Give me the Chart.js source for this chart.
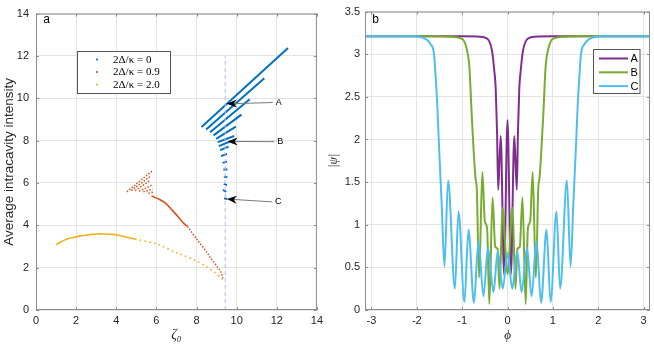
<!DOCTYPE html>
<html>
<head>
<meta charset="utf-8">
<script src="https://cdn.jsdelivr.net/npm/chart.js@4.4.1/dist/chart.umd.min.js"></script>
<style>
  body { margin: 0; background: #fff; }
  #wrap { position: relative; width: 654px; height: 348px; }
  canvas { position: absolute; top: 0; }
</style>
</head>
<body>
<div id="wrap">
  <canvas id="leftChart" width="327" height="348" style="left:0"></canvas>
  <canvas id="rightChart" width="327" height="348" style="left:327px"></canvas>
</div>
<script>
// ---- panel a : average intracavity intensity vs zeta0 ----
const seriesNames = ['2Δ/κ = 0', '2Δ/κ = 0.9', '2Δ/κ = 2.0'];

// 2Δ/κ = 0 : branches (x1, y1, x2, y2)
const blueBranches = [
  [8.25, 8.64, 12.56, 12.38],
  [8.48, 8.52, 11.38, 10.95],
  [8.68, 8.40, 10.65, 9.95],
  [8.85, 8.25, 10.24, 9.23],
  [8.98, 8.08, 9.96, 8.66],
  [9.06, 7.93, 9.88, 8.22],
  [9.11, 7.74, 9.72, 7.98],
  [9.18, 7.55, 9.60, 7.72],
  [9.22, 7.27, 9.52, 7.37],
  [9.30, 6.95, 9.52, 7.00],
  [9.34, 6.64, 9.54, 6.64],
  [9.36, 6.30, 9.54, 6.27],
  [9.36, 5.96, 9.52, 5.90],
  [9.32, 5.67, 9.48, 5.58],
  [9.38, 5.29, 9.52, 5.22]
];

// 2Δ/κ = 0.9 : comb branches and main curve
const orangeBranches = [
  [4.53, 5.58, 5.84, 6.61],
  [4.75, 5.64, 5.73, 6.34],
  [4.94, 5.64, 5.68, 6.11],
  [5.14, 5.61, 5.76, 5.89],
  [5.35, 5.58, 5.81, 5.72],
  [5.60, 5.51, 5.89, 5.58]
];
const orangeDenseX = [5.76, 6.10, 6.41, 6.90, 7.39, 7.55];
const orangeDenseY = [5.38, 5.25, 5.08, 4.60, 4.07, 3.95];
const orangeSparseX = [7.55, 8.04, 8.50, 8.70, 9.18, 9.32];
const orangeSparseY = [3.95, 3.31, 2.75, 2.46, 1.85, 1.50];

// 2Δ/κ = 2.0
const yellowDenseX = [1.00, 1.25, 1.52, 1.85, 2.17, 2.60, 2.99, 3.40, 3.80, 4.10, 4.45, 4.94];
const yellowDenseY = [3.08, 3.22, 3.34, 3.42, 3.49, 3.55, 3.59, 3.59, 3.57, 3.53, 3.46, 3.35];
const yellowSparseX = [4.94, 6.00, 6.98, 7.96, 8.48, 8.94, 9.30];
const yellowSparseY = [3.35, 3.12, 2.72, 2.34, 2.05, 1.74, 1.45];

const guideX = 9.43;
const guideTop = 12;

const arrowNotes = [
  { label: 'A', tail: [11.80, 9.80], tip: [9.51, 9.74] },
  { label: 'B', tail: [11.88, 7.95], tip: [9.55, 7.96] },
  { label: 'C', tail: [11.76, 5.11], tip: [9.51, 5.24] }
];

// ---- panel b : |psi| vs phi ----
const curveNames = ['A', 'B', 'C'];
const phiA = [-3.1416, -1.0, -0.6, -0.47, -0.41, -0.34, -0.29, -0.26, -0.23, -0.205, -0.15, -0.075, 0,
  0.075, 0.15, 0.205, 0.23, 0.26, 0.29, 0.34, 0.41, 0.47, 0.6, 1.0, 3.1416];
const psiA = [3.21, 3.21, 3.205, 3.19, 3.16, 3.04, 2.80, 2.60, 2.08, 1.41, 2.04, 0.42, 2.23,
  0.42, 2.04, 1.41, 2.08, 2.60, 2.80, 3.04, 3.16, 3.19, 3.205, 3.21, 3.21];

const phiB = [-3.1416, -1.6, -1.3, -1.0, -0.89, -0.84, -0.79, -0.74, -0.70, -0.68, -0.625, -0.555, -0.50,
  -0.45, -0.40, -0.33, -0.27, -0.22, -0.175, -0.11, 0,
  0.11, 0.175, 0.22, 0.27, 0.33, 0.40, 0.45, 0.50, 0.555, 0.625, 0.68, 0.70, 0.74, 0.79, 0.84, 0.89,
  1.0, 1.3, 1.6, 3.1416];
const psiB = [3.21, 3.21, 3.205, 3.18, 3.04, 2.85, 2.30, 1.81, 1.52, 1.45, 0.38, 1.62, 1.04,
  0.96, 0.07, 1.32, 0.74, 0.72, 0.25, 1.20, 0.42,
  1.20, 0.25, 0.72, 0.74, 1.32, 0.07, 0.96, 1.04, 1.62, 0.38, 1.45, 1.52, 1.81, 2.30, 2.85, 3.04,
  3.18, 3.205, 3.21, 3.21];

const phiC = [-3.1416, -2.1, -1.9, -1.78, -1.70, -1.62, -1.58, -1.55, -1.52, -1.50, -1.45, -1.39,
  -1.31, -1.16, -1.08, -0.95, -0.86, -0.74, -0.64, -0.53, -0.43, -0.31, -0.215, -0.105, 0,
  0.105, 0.215, 0.31, 0.43, 0.53, 0.64, 0.74, 0.86, 0.95, 1.08, 1.16, 1.31,
  1.39, 1.45, 1.50, 1.52, 1.55, 1.58, 1.62, 1.70, 1.78, 1.9, 2.1, 3.1416];
const psiC = [3.21, 3.21, 3.20, 3.17, 3.12, 3.00, 2.70, 2.43, 2.05, 1.81, 1.23, 0.51,
  1.52, 0.25, 1.155, 0.095, 0.94, 0.085, 0.81, 0.16, 0.73, 0.21, 0.69, 0.25, 0.67,
  0.25, 0.69, 0.21, 0.73, 0.16, 0.81, 0.085, 0.94, 0.095, 1.155, 0.25, 1.52,
  0.51, 1.23, 1.81, 2.05, 2.43, 2.70, 3.00, 3.12, 3.17, 3.20, 3.21, 3.21];

const phiTicks = [-3, -2, -1, 0, 1, 2, 3];

// ---- colours ----
const cBlue = '#0072BD', cOrange = '#D95319', cYellow = '#EDB120';
const cA = '#7E2F8E', cB = '#77AC30', cC = '#4DBEEE';
const gridColor = '#e4e4e4', frameColor = '#8c8c8c', textColor = '#262626';
const sans = '"Liberation Sans", Arial, Helvetica, sans-serif';
const serif = '"Liberation Serif", "DejaVu Serif", serif';

const zip = (xs, ys) => xs.map((x, i) => ({ x: x, y: ys[i] }));
const lineSet = (pts, color, width, dash, extra) => Object.assign({
  data: pts, borderColor: color, backgroundColor: color, borderWidth: width,
  borderDash: dash || [], showLine: true, pointRadius: 0, fill: false
}, extra || {});

// frame + inward tick marks, MATLAB style
const framePlugin = {
  id: 'frame',
  afterDraw(chart) {
    const { ctx, chartArea: a, scales } = chart;
    ctx.save();
    ctx.strokeStyle = frameColor;
    ctx.lineWidth = 1;
    ctx.strokeRect(a.left + 0.5, a.top + 0.5, a.right - a.left - 1, a.bottom - a.top - 1);
    ctx.beginPath();
    scales.x.ticks.forEach(t => {
      const p = Math.round(scales.x.getPixelForValue(t.value)) + 0.5;
      ctx.moveTo(p, a.bottom); ctx.lineTo(p, a.bottom - 3);
      ctx.moveTo(p, a.top); ctx.lineTo(p, a.top + 3);
    });
    scales.y.ticks.forEach(t => {
      const p = Math.round(scales.y.getPixelForValue(t.value)) + 0.5;
      ctx.moveTo(a.left, p); ctx.lineTo(a.left + 3, p);
      ctx.moveTo(a.right, p); ctx.lineTo(a.right - 3, p);
    });
    ctx.stroke();
    ctx.restore();
  }
};

function panelLetter(ctx, txt, x, y) {
  ctx.save();
  ctx.fillStyle = '#000';
  ctx.font = '12px ' + sans;
  ctx.textAlign = 'center';
  ctx.textBaseline = 'middle';
  ctx.fillText(txt, x, y);
  ctx.restore();
}

const leftExtras = {
  id: 'leftExtras',
  afterDraw(chart) {
    const { ctx, scales: { x, y } } = chart;
    ctx.save();
    // arrows
    arrowNotes.forEach(n => {
      const x1 = x.getPixelForValue(n.tail[0]), y1 = y.getPixelForValue(n.tail[1]);
      const x2 = x.getPixelForValue(n.tip[0]), y2 = y.getPixelForValue(n.tip[1]);
      const ang = Math.atan2(y2 - y1, x2 - x1);
      ctx.strokeStyle = '#777';
      ctx.lineWidth = 1;
      ctx.beginPath(); ctx.moveTo(x1, y1); ctx.lineTo(x2 - 6 * Math.cos(ang), y2 - 6 * Math.sin(ang)); ctx.stroke();
      ctx.save();
      ctx.translate(x2, y2); ctx.rotate(ang);
      ctx.fillStyle = '#000';
      ctx.beginPath();
      ctx.moveTo(0, 0); ctx.lineTo(-10, -4); ctx.lineTo(-7, 0); ctx.lineTo(-10, 4); ctx.closePath();
      ctx.fill();
      ctx.restore();
      ctx.fillStyle = '#000';
      ctx.font = '9px ' + sans;
      ctx.textAlign = 'left'; ctx.textBaseline = 'middle';
      ctx.fillText(n.label, x1 + 3, y1);
    });
    // legend
    const bx = 77.5, by = 51.5, bw = 93, bh = 42;
    ctx.fillStyle = '#fff';
    ctx.fillRect(bx, by, bw, bh);
    ctx.strokeStyle = '#555';
    ctx.lineWidth = 1;
    ctx.strokeRect(bx, by, bw, bh);
    const cols = [cBlue, cOrange, cYellow];
    ctx.font = '11px ' + serif;
    ctx.textAlign = 'left'; ctx.textBaseline = 'middle';
    seriesNames.forEach((s, i) => {
      const yy = 59.5 + i * 12.5;
      ctx.fillStyle = cols[i];
      ctx.beginPath(); ctx.arc(97, yy, 1.1, 0, Math.PI * 2); ctx.fill();
      ctx.fillStyle = '#000';
      ctx.fillText(s, 113, yy + 0.5);
    });
    ctx.restore();
    panelLetter(ctx, 'a', 46.5, 20);
  }
};

const rightExtras = {
  id: 'rightExtras',
  afterDraw(chart) {
    const ctx = chart.ctx;
    ctx.save();
    const bx = 266.5, by = 49.5, bw = 46.5, bh = 44;
    ctx.fillStyle = '#fff';
    ctx.fillRect(bx, by, bw, bh);
    ctx.strokeStyle = '#555';
    ctx.lineWidth = 1;
    ctx.strokeRect(bx, by, bw, bh);
    const cols = [cA, cB, cC];
    ctx.font = '11px ' + sans;
    ctx.textAlign = 'left'; ctx.textBaseline = 'middle';
    curveNames.forEach((s, i) => {
      const yy = 58.5 + i * 13.8;
      ctx.strokeStyle = cols[i];
      ctx.lineWidth = 2;
      ctx.beginPath(); ctx.moveTo(272, yy); ctx.lineTo(301, yy); ctx.stroke();
      ctx.fillStyle = '#000';
      ctx.fillText(s, 303.5, yy + 0.5);
    });
    ctx.restore();
    panelLetter(ctx, 'b', 48.5, 19.5);
  }
};

const tickFont = { family: sans, size: 11 };
const plainTick = v => String(v);

// ---- left chart ----
const leftSets = [];
leftSets.push(lineSet([{ x: guideX, y: 0 }, { x: guideX, y: guideTop }], '#b4b4ff', 1, [4, 3]));
blueBranches.forEach(b => leftSets.push(lineSet([{ x: b[0], y: b[1] }, { x: b[2], y: b[3] }], cBlue, 2)));
orangeBranches.forEach(b => leftSets.push(lineSet([{ x: b[0], y: b[1] }, { x: b[2], y: b[3] }], cOrange, 1.5, [1.5, 1.6])));
leftSets.push(lineSet(zip(orangeDenseX, orangeDenseY), cOrange, 1.6, [], { tension: 0.3 }));
leftSets.push(lineSet(zip(orangeSparseX, orangeSparseY), cOrange, 1.5, [1.5, 1.6], { tension: 0.3 }));
leftSets.push(lineSet(zip(yellowDenseX, yellowDenseY), cYellow, 1.6, [], { tension: 0.4 }));
leftSets.push(lineSet(zip(yellowSparseX, yellowSparseY), cYellow, 1.6, [1.6, 3.2], { tension: 0.3 }));

new Chart(document.getElementById('leftChart'), {
  type: 'scatter',
  data: { datasets: leftSets },
  options: {
    responsive: false,
    animation: false,
    events: [],
    layout: { padding: { top: 7, right: 5, left: 0, bottom: 0 } },
    plugins: { legend: { display: false }, tooltip: { enabled: false } },
    scales: {
      x: {
        type: 'linear', min: 0, max: 14,
        ticks: { stepSize: 2, padding: 4, color: textColor, font: tickFont, callback: plainTick },
        grid: { color: gridColor, drawTicks: false },
        border: { display: false },
        title: { display: true, text: 'ζ₀', color: textColor, font: { family: serif, size: 14, style: 'italic' }, padding: { top: 0, bottom: 4.5 } },
        afterFit: s => { s.height = 38; }
      },
      y: {
        type: 'linear', min: 0, max: 14,
        ticks: { stepSize: 2, padding: 7, color: textColor, font: tickFont, callback: plainTick },
        grid: { color: gridColor, drawTicks: false },
        border: { display: false },
        title: { display: true, text: 'Average intracavity intensity', color: textColor, font: { family: sans, size: 13.5 }, padding: { top: 1, bottom: 0 } },
        afterFit: s => { s.width = 36; }
      }
    }
  },
  plugins: [framePlugin, leftExtras]
});

// ---- right chart ----
new Chart(document.getElementById('rightChart'), {
  type: 'scatter',
  data: {
    datasets: [
      lineSet(zip(phiC, psiC), cC, 2, [], { cubicInterpolationMode: 'monotone', order: 0 }),
      lineSet(zip(phiB, psiB), cB, 2, [], { cubicInterpolationMode: 'monotone', order: 1 }),
      lineSet(zip(phiA, psiA), cA, 2, [], { cubicInterpolationMode: 'monotone', order: 2 })
    ]
  },
  options: {
    responsive: false,
    animation: false,
    events: [],
    layout: { padding: { top: 7, right: 4, left: 0, bottom: 0 } },
    plugins: { legend: { display: false }, tooltip: { enabled: false } },
    scales: {
      x: {
        type: 'linear', min: -Math.PI, max: Math.PI,
        afterBuildTicks: s => { s.ticks = phiTicks.map(v => ({ value: v })); },
        ticks: { padding: 4, color: textColor, font: tickFont, callback: plainTick },
        grid: { color: gridColor, drawTicks: false },
        border: { display: false },
        title: { display: true, text: 'ϕ', color: textColor, font: { family: serif, size: 13, style: 'italic' }, padding: { top: 0, bottom: 5 } },
        afterFit: s => { s.height = 38; }
      },
      y: {
        type: 'linear', min: 0, max: 3.5,
        ticks: { stepSize: 0.5, padding: 5, color: textColor, font: tickFont, callback: plainTick },
        grid: { color: gridColor, drawTicks: false },
        border: { display: false },
        title: { display: true, text: '|ψ|', color: textColor, font: { family: serif, size: 12, style: 'italic' }, padding: { top: 0, bottom: 0 } },
        afterFit: s => { s.width = 38; }
      }
    }
  },
  plugins: [framePlugin, rightExtras]
});
</script>
</body>
</html>
